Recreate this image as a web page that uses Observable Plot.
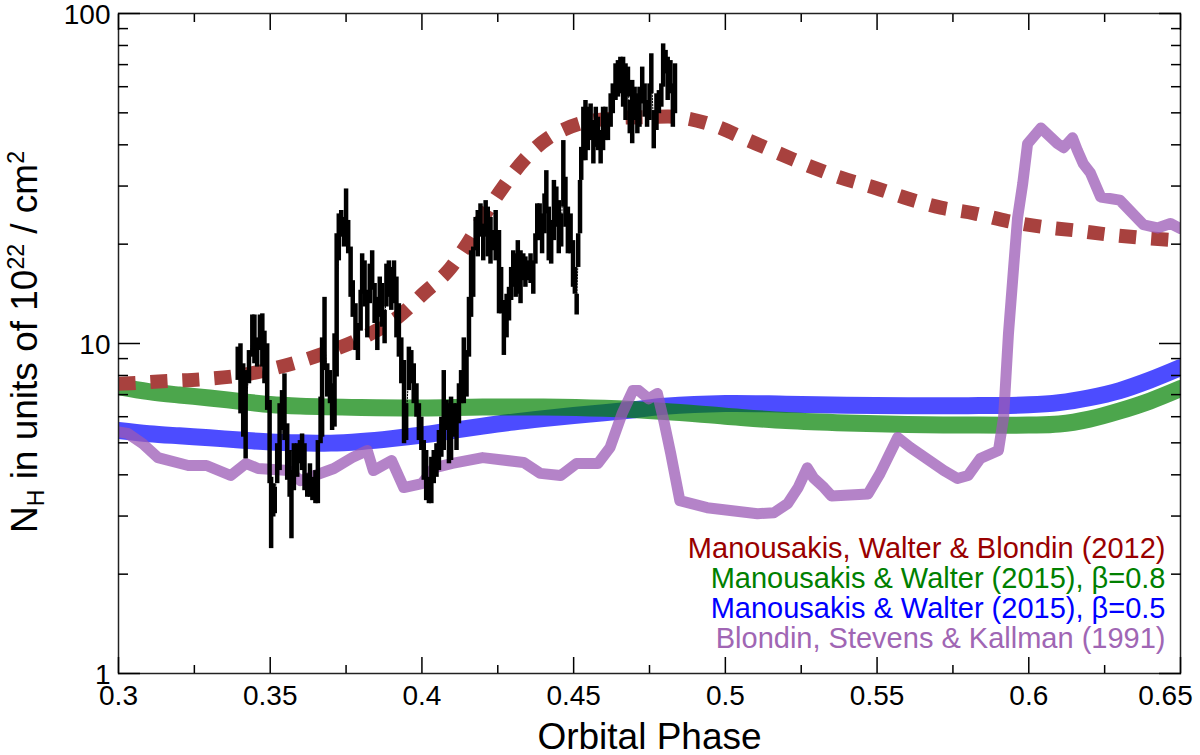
<!DOCTYPE html>
<html>
<head>
<meta charset="utf-8">
<script src="https://cdn.jsdelivr.net/npm/d3@7"></script>
<script src="https://cdn.jsdelivr.net/npm/@observablehq/plot@0.6"></script>
<style>
  body { margin: 0; background: #fff; }
  #chart svg { display: block; }
</style>
</head>
<body>
<div id="chart"></div>
<script>
// Manousakis, Walter & Blondin (2012) model
const redPhase = [0.30, 0.306, 0.317, 0.328, 0.34, 0.351, 0.361, 0.372, 0.383, 0.392, 0.4006, 0.4084,
  0.415, 0.421, 0.427, 0.434, 0.4417, 0.452, 0.463, 0.474, 0.485, 0.497, 0.507, 0.517, 0.528, 0.538,
  0.5495, 0.56, 0.571, 0.582, 0.593, 0.604, 0.6155, 0.626, 0.6375, 0.65]
const redNH = [7.55, 7.6, 7.7, 7.8, 8.0, 8.4, 8.9, 9.65, 10.7, 12.0, 14.2, 16.5,
  20.1, 24.8, 30.0, 36.3, 42.0, 46.4, 48.1, 48.5, 48.5, 45.5, 41.5, 37.9, 34.4, 31.8,
  29.6, 27.5, 25.8, 24.8, 23.5, 22.6, 22.0, 21.4, 20.9, 20.5]

// Manousakis & Walter (2015), beta = 0.8
const greenPhase = [0.30, 0.31, 0.32, 0.33, 0.34, 0.35, 0.36, 0.38, 0.40, 0.42, 0.44, 0.46,
  0.48, 0.50, 0.52, 0.54, 0.56, 0.58, 0.60, 0.61, 0.62, 0.63, 0.64, 0.65]
const greenNH = [7.4, 7.15, 6.98, 6.84, 6.68, 6.53, 6.46, 6.40, 6.38, 6.42, 6.42, 6.36,
  6.22, 6.02, 5.84, 5.74, 5.68, 5.66, 5.66, 5.70, 5.90, 6.25, 6.7, 7.3]

// Manousakis & Walter (2015), beta = 0.5
const bluePhase = [0.30, 0.31, 0.32, 0.33, 0.34, 0.35, 0.36, 0.37, 0.38, 0.39, 0.40, 0.41,
  0.42, 0.43, 0.44, 0.45, 0.46, 0.47, 0.48, 0.50, 0.52, 0.54, 0.56, 0.58, 0.60, 0.61,
  0.62, 0.63, 0.64, 0.65]
const blueNH = [5.45, 5.33, 5.25, 5.18, 5.1, 5.03, 5.0, 4.99, 5.05, 5.15, 5.28, 5.45,
  5.62, 5.78, 5.92, 6.05, 6.17, 6.3, 6.45, 6.58, 6.55, 6.5, 6.48, 6.48, 6.52, 6.62,
  6.85, 7.2, 7.75, 8.45]

// Blondin, Stevens & Kallman (1991)
const purplePhase = [0.30, 0.303, 0.308, 0.313, 0.323, 0.329, 0.337, 0.342, 0.346, 0.356,
  0.36, 0.371, 0.377, 0.382, 0.384, 0.39, 0.394, 0.40, 0.404, 0.41,
  0.42, 0.4335, 0.439, 0.4457, 0.451, 0.458, 0.462, 0.466, 0.4695, 0.4715,
  0.4747, 0.4776, 0.4797, 0.482, 0.485, 0.494, 0.5106, 0.516, 0.5205, 0.524,
  0.527, 0.529, 0.5325, 0.535, 0.547, 0.551, 0.5568, 0.561, 0.572, 0.5765,
  0.58, 0.584, 0.59, 0.5917, 0.5933, 0.595, 0.5963, 0.598, 0.5996, 0.604,
  0.6095, 0.6115, 0.6144, 0.616, 0.618, 0.6203, 0.6237, 0.63, 0.6378, 0.6424,
  0.6467, 0.65]
const purpleNH = [5.4, 5.34, 4.97, 4.51, 4.27, 4.27, 3.98, 4.33, 4.18, 4.12,
  3.84, 4.18, 4.51, 4.74, 4.12, 4.42, 3.66, 3.76, 4.2, 4.33,
  4.51, 4.36, 4.04, 3.98, 4.33, 4.33, 4.84, 6.14, 7.2, 7.2,
  6.8, 7.06, 5.84, 4.64, 3.34, 3.18, 3.05, 3.07, 3.27, 3.66,
  4.2, 3.92, 3.66, 3.45, 3.5, 4.04, 5.19, 4.84, 4.12, 3.9,
  3.98, 4.48, 4.74, 5.97, 10.7, 17, 24, 30.5, 40.3, 45,
  40.3, 39.2, 42, 38.5, 35, 32.9, 27.8, 27.2, 22.9, 22.4,
  23.1, 22.3]

// observed N_H with error bars (low / high)
const obsPhase = [
  0.3393, 0.3402, 0.3411, 0.3419, 0.3430, 0.3441, 0.3448, 0.3457, 0.3466, 0.3474,
  0.3481, 0.3490, 0.3498, 0.3503, 0.3510, 0.3515, 0.3523, 0.3531, 0.3539, 0.3547,
  0.3556, 0.3564, 0.3570, 0.3578, 0.3589, 0.3598, 0.3605, 0.3613, 0.3622, 0.3631,
  0.3639, 0.3649, 0.3657, 0.3666, 0.3671, 0.3679, 0.3688, 0.3697, 0.3704, 0.3712,
  0.3719, 0.3726, 0.3734, 0.3743, 0.3750, 0.3757, 0.3765, 0.3772, 0.3781, 0.3789,
  0.3798, 0.3803, 0.3811, 0.3820, 0.3828, 0.3836, 0.3844, 0.3853, 0.3861, 0.3869,
  0.3877, 0.3883, 0.3891, 0.3899, 0.3908, 0.3916, 0.3924, 0.3932, 0.3941, 0.3948,
  0.3957, 0.3965, 0.3973, 0.3982, 0.3990, 0.3998, 0.4006, 0.4014, 0.4023, 0.4031,
  0.4039, 0.4048, 0.4056, 0.4064, 0.4072, 0.4081, 0.4089, 0.4096, 0.4105, 0.4114,
  0.4122, 0.4129, 0.4138, 0.4147, 0.4155, 0.4162, 0.4169, 0.4177, 0.4184, 0.4193,
  0.4202, 0.4210, 0.4217, 0.4226, 0.4235, 0.4243, 0.4254, 0.4261, 0.4270, 0.4279,
  0.4287, 0.4294, 0.4301, 0.4309, 0.4316, 0.4325, 0.4334, 0.4341, 0.4349, 0.4358,
  0.4367, 0.4374, 0.4380, 0.4388, 0.4396, 0.4404, 0.4410, 0.4418, 0.4426, 0.4435,
  0.4443, 0.4451, 0.4459, 0.4466, 0.4473, 0.4481, 0.4490, 0.4498, 0.4504, 0.4510,
  0.4515, 0.4521, 0.4525, 0.4532, 0.4539, 0.4547, 0.4556, 0.4565, 0.4573, 0.4580,
  0.4589, 0.4597, 0.4605, 0.4613, 0.4622, 0.4629, 0.4638, 0.4646, 0.4654, 0.4663,
  0.4671, 0.4679, 0.4685, 0.4693, 0.4701, 0.4710, 0.4717, 0.4726, 0.4734, 0.4742,
  0.4750, 0.4756, 0.4764, 0.4773, 0.4781, 0.4789, 0.4795, 0.4803, 0.4810, 0.4819,
  0.4827, 0.4834]
const obsHigh = [
  9.75, 9.98, 8.68, 8.28, 9.52, 12.2, 12.2, 10.4, 12.2, 12.3,
  10.9, 9.98, 6.72, 3.93, 3.76, 3.67, 4.97, 6.57, 7.20, 8.09,
  5.71, 4.74, 4.12, 4.97, 4.97, 5.08, 5.32, 4.97, 4.03, 4.32,
  3.93, 4.12, 5.08, 6.88, 10.4, 13.8, 8.68, 8.28, 7.55, 10.7,
  21.5, 24.7, 25.3, 24.1, 29.4, 23.6, 19.6, 15.5, 13.2, 11.5,
  14.5, 18.7, 17.8, 14.5, 17.4, 19.1, 15.2, 13.8, 15.9, 15.2,
  12.6, 17.4, 17.8, 17.0, 17.8, 15.9, 13.2, 10.4, 8.88, 6.57,
  9.75, 9.52, 8.68, 7.55, 6.57, 5.98, 5.08, 4.74, 3.93, 4.52,
  4.74, 4.97, 5.45, 5.98, 8.28, 6.72, 6.57, 6.88, 6.57, 6.57,
  7.55, 8.28, 10.4, 9.52, 13.8, 19.1, 19.6, 24.1, 25.3, 26.5,
  23.0, 27.1, 25.9, 24.1, 22.0, 25.3, 22.0, 17.0, 13.5, 14.1,
  14.8, 17.0, 19.1, 18.7, 20.5, 19.1, 18.7, 18.3, 17.8, 18.7,
  17.8, 21.5, 26.5, 26.5, 24.7, 28.4, 33.4, 25.9, 23.6, 31.2,
  29.8, 27.1, 24.7, 41.2, 31.9, 25.9, 24.7, 20.5, 17.0, 14.1,
  21.5, 31.2, 39.3, 52.0, 54.5, 52.0, 53.2, 47.4, 52.0, 48.5,
  44.2, 52.0, 52.0, 49.7, 57.1, 61.2, 70.4, 72.0, 73.7, 73.7,
  70.4, 68.8, 54.5, 62.7, 59.8, 57.1, 59.8, 68.8, 61.2, 54.5,
  61.2, 75.5, 50.8, 57.1, 58.4, 61.2, 80.9, 77.3, 73.7, 72.0,
  61.2, 70.4]
const obsLow = [
  7.73, 6.12, 5.20, 4.47, 7.55, 9.09, 8.68, 8.48, 9.52, 8.48,
  7.55, 6.27, 3.76, 2.39, 2.98, 3.05, 3.76, 4.12, 5.45, 5.08,
  3.85, 3.42, 2.56, 3.58, 3.93, 4.32, 4.12, 3.58, 3.42, 3.42,
  3.34, 3.27, 3.27, 4.97, 5.20, 8.28, 6.88, 6.57, 5.45, 5.58,
  7.91, 17.8, 21.0, 19.6, 22.0, 18.7, 13.8, 12.0, 9.52, 8.88,
  10.9, 14.1, 12.9, 10.4, 13.2, 14.5, 11.5, 9.52, 12.0, 11.2,
  9.98, 12.9, 13.8, 12.6, 13.2, 10.4, 9.09, 7.55, 4.97, 5.08,
  7.20, 7.55, 6.57, 5.98, 5.08, 4.74, 3.85, 3.34, 3.27, 3.27,
  3.76, 3.93, 4.12, 4.52, 4.74, 5.45, 4.32, 4.42, 5.20, 4.74,
  5.71, 6.57, 6.57, 6.88, 9.09, 12.0, 13.8, 19.1, 18.3, 21.0,
  17.8, 21.0, 18.3, 17.4, 19.1, 17.8, 12.3, 12.3, 9.20, 10.4,
  11.7, 13.5, 14.8, 13.8, 14.1, 13.2, 15.5, 14.8, 15.5, 15.2,
  14.1, 17.4, 20.5, 20.5, 18.7, 21.5, 24.7, 17.8, 17.4, 20.5,
  22.5, 18.7, 19.6, 25.9, 22.5, 18.7, 18.7, 14.8, 14.1, 12.2,
  17.0, 21.5, 31.2, 35.8, 35.8, 38.4, 41.2, 35.0, 39.3, 38.4,
  35.0, 38.4, 41.2, 41.2, 45.2, 49.7, 54.5, 55.8, 57.1, 52.0,
  47.4, 55.8, 43.2, 40.3, 47.4, 43.2, 45.2, 53.2, 48.5, 45.2,
  47.4, 57.1, 38.9, 44.2, 49.7, 52.0, 59.8, 65.6, 54.5, 57.1,
  45.2, 49.7]

// axis ticks
const xMajor = [0.3, 0.35, 0.4, 0.45, 0.5, 0.55, 0.6, 0.65]
const xMinor = [0.325, 0.375, 0.425, 0.475, 0.525, 0.575, 0.625]
const yMajor = [1, 10, 100]
const yMinor = [2, 3, 4, 5, 6, 7, 8, 9, 20, 30, 40, 50, 60, 70, 80, 90]

const legendLabels = [
  'Manousakis, Walter & Blondin (2012)',
  'Manousakis & Walter (2015), β=0.8',
  'Manousakis & Walter (2015), β=0.5',
  'Blondin, Stevens & Kallman (1991)',
]
const legendColors = ['#990000', '#008000', '#0000ff', '#a066b4']

const font = '"Liberation Sans", Arial, Helvetica, sans-serif'

const obs = obsPhase.map((p, i) => ({ phase: p, lo: obsLow[i], hi: obsHigh[i] }))

const tickAxes = [
  Plot.axisX(xMajor, { anchor: 'bottom', tickSize: 16, dy: -16, fill: 'none', label: null, strokeWidth: 1.5 }),
  Plot.axisX(xMinor, { anchor: 'bottom', tickSize: 8, dy: -8, fill: 'none', label: null, strokeWidth: 1.5 }),
  Plot.axisX(xMajor, { anchor: 'top', tickSize: 16, dy: 16, fill: 'none', label: null, strokeWidth: 1.5 }),
  Plot.axisX(xMinor, { anchor: 'top', tickSize: 8, dy: 8, fill: 'none', label: null, strokeWidth: 1.5 }),
  Plot.axisY(yMajor, { anchor: 'left', tickSize: 22, dx: 22, fill: 'none', label: null, strokeWidth: 1.5 }),
  Plot.axisY(yMinor, { anchor: 'left', tickSize: 10, dx: 10, fill: 'none', label: null, strokeWidth: 1.5 }),
  Plot.axisY(yMajor, { anchor: 'right', tickSize: 22, dx: -22, fill: 'none', label: null, strokeWidth: 1.5 }),
  Plot.axisY(yMinor, { anchor: 'right', tickSize: 10, dx: -10, fill: 'none', label: null, strokeWidth: 1.5 }),
]

const legendMarks = legendLabels.map((t, i) =>
  Plot.text([t], {
    frameAnchor: 'bottom-right',
    textAnchor: 'end',
    lineAnchor: 'bottom',
    dx: -15,
    dy: -116 + i * 30,
    fill: legendColors[i],
    fontSize: 29,
  }),
)

let chart = Plot.plot({
  width: 1200,
  height: 755,
  marginLeft: 118,
  marginRight: 20,
  marginTop: 13,
  marginBottom: 82,
  style: { fontFamily: font, background: '#fff', color: '#000' },
  x: { domain: [0.3, 0.65] },
  y: { type: 'log', domain: [1, 100] },
  marks: [
    Plot.line(blueNH, { x: bluePhase, y: d => d, stroke: '#0000ff', strokeOpacity: 0.7, strokeWidth: 17, curve: 'catmull-rom', clip: true }),
    Plot.line(greenNH, { x: greenPhase, y: d => d, stroke: '#008000', strokeOpacity: 0.7, strokeWidth: 17, curve: 'catmull-rom', clip: true }),
    Plot.line(redNH, { x: redPhase, y: d => d, stroke: '#a8413e', strokeWidth: 14, strokeDasharray: '17,15', strokeLinecap: 'butt', curve: 'catmull-rom', clip: true }),
    Plot.line(purpleNH, { x: purplePhase, y: d => d, stroke: '#9b59b6', strokeOpacity: 0.75, strokeWidth: 11, strokeLinejoin: 'round', clip: true }),
    // thin dotted link between the data points
    Plot.line(obs, { x: 'phase', y: d => Math.sqrt(d.lo * d.hi), stroke: '#000', strokeWidth: 1, strokeDasharray: '1.5,1.5' }),
    Plot.ruleX(obs, { x: 'phase', y1: 'lo', y2: 'hi', stroke: '#000', strokeWidth: 4.5 }),
    Plot.frame({ stroke: '#222', strokeWidth: 1.5 }),
    ...tickAxes,
    Plot.axisX(xMajor.slice(0, -1), { anchor: 'bottom', tickSize: 0, tickPadding: 12, fontSize: 28, tickFormat: d => String(d), label: null }),
    Plot.axisX(xMajor.slice(-1), { anchor: 'bottom', tickSize: 0, tickPadding: 12, dx: -15, fontSize: 28, tickFormat: d => String(d), label: null }),
    Plot.axisY(yMajor, { anchor: 'left', tickSize: 0, tickPadding: 8, dy: 2, fontSize: 28, tickFormat: d => String(d), label: null }),
    Plot.text(['Orbital Phase'], { frameAnchor: 'bottom', lineAnchor: 'bottom', dy: 75, fontSize: 37 }),
    ...legendMarks,
  ],
})

// y label with sub/superscripts
const yl = d3.select(chart).append('text')
  .attr('transform', 'translate(37,342) rotate(-90)')
  .attr('text-anchor', 'middle')
  .attr('font-family', font)
  .attr('font-size', 37)
  .attr('fill', '#000')
yl.append('tspan').text('N')
yl.append('tspan').attr('font-size', 23).attr('dy', 7).text('H')
yl.append('tspan').attr('dy', -7).text(' in units of 10')
yl.append('tspan').attr('font-size', 23).attr('dy', -13).text('22')
yl.append('tspan').attr('dy', 13).text(' / cm')
yl.append('tspan').attr('font-size', 23).attr('dy', -13).text('2')

d3.select('#chart').append(() => chart)
</script>
</body>
</html>
